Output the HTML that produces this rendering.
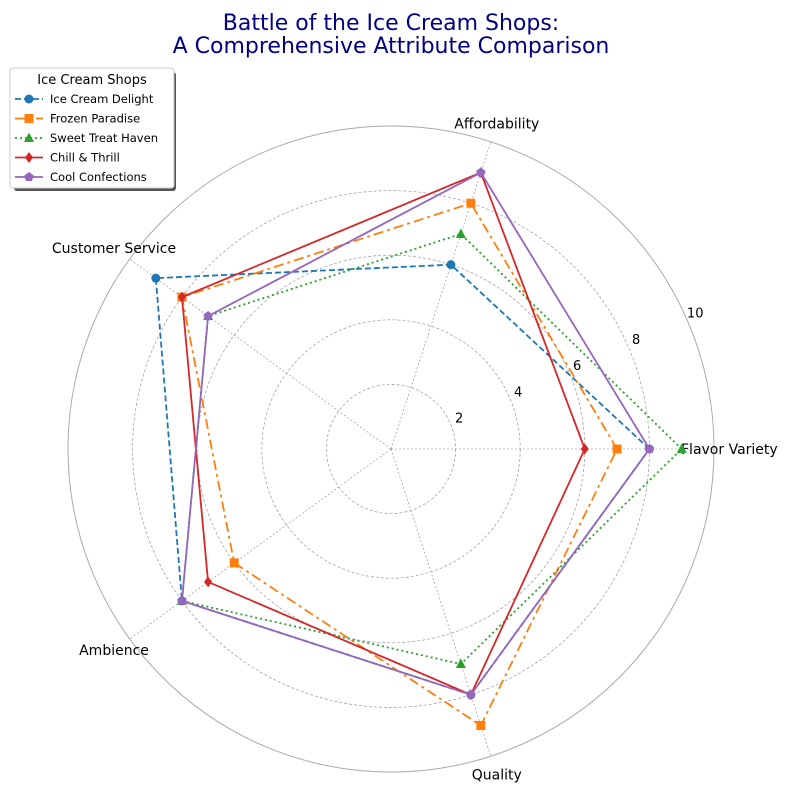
<!DOCTYPE html>
<html><head><meta charset="utf-8"><style>
body{margin:0;background:#fff;font-family:"Liberation Sans","DejaVu Sans",sans-serif;}
svg text{font-family:"DejaVu Sans","Liberation Sans",sans-serif;}
</style></head><body>
<svg id="chart" width="800" height="800" viewBox="0 0 800 800">
<text x="391" y="30" text-anchor="middle" font-size="22" fill="#000080">Battle of the Ice Cream Shops:</text>
<text x="391" y="53" text-anchor="middle" font-size="22" fill="#000080">A Comprehensive Attribute Comparison</text>
<g id="grid"></g><g id="series"></g><g id="legend"></g>
</svg>
<script>
const categories=["Flavor Variety","Affordability","Customer Service","Ambience","Quality"];
const seriesNames=["Ice Cream Delight","Frozen Paradise","Sweet Treat Haven","Chill & Thrill","Cool Confections"];
const iceCreamDelight=[8,6,9,8,8];
const frozenParadise=[7,8,8,6,9];
const sweetTreatHaven=[9,7,7,8,7];
const chillThrill=[6,9,8,7,8];
const coolConfections=[8,9,7,8,8];
const tickLabels=[2,4,6,8,10];
const rMax=10;
const seriesValues=[iceCreamDelight,frozenParadise,sweetTreatHaven,chillThrill,coolConfections];
const colors=["#1f77b4","#ff7f0e","#2ca02c","#d62728","#9467bd"];
const dashes=["6,3","10,4,3,4","2,3","",""];
const markers=["circle","square","triangle","diamond","pentagon"];
const cx=391,cy=449,R=323,NS="http://www.w3.org/2000/svg";
function rs(v){return v/rMax*R;}
function ang(i){return i*2*Math.PI/categories.length;}
function pt(i,v){return [cx+rs(v)*Math.cos(ang(i)),cy-rs(v)*Math.sin(ang(i))];}
function mk(tag,attrs,parent){const e=document.createElementNS(NS,tag);for(const k in attrs)e.setAttribute(k,attrs[k]);parent.appendChild(e);return e;}
const grid=document.getElementById('grid');
tickLabels.forEach(t=>{
  const c=mk('circle',{cx:cx,cy:cy,r:rs(t),fill:'none',stroke:t===rMax?'#aaa':'#999','stroke-width':t===rMax?1:0.7,'stroke-dasharray':t===rMax?'':'3,2'},grid);
  
  
  const a=24*Math.PI/180;
  const tx=mk('text',{x:cx+(rs(t)+10)*Math.cos(a),y:cy-(rs(t)+10)*Math.sin(a)+4,'font-size':13,'text-anchor':'middle'},grid);
  tx.textContent=t;
  
  
});
categories.forEach((c,i)=>{
  const p=pt(i,rMax);
  const l=mk('line',{x1:cx,y1:cy,x2:p[0],y2:p[1],stroke:'#888','stroke-width':0.6,'stroke-dasharray':'2,2'},grid);
  
  
  const q=pt(i,rMax*1.06);
  let anchor='middle';if(i===0)anchor='start';
  let x=q[0],y=q[1]+5;
  if(i===0){x=cx+R-33;y=cy+5;}
  const t=mk('text',{x:x,y:y,'font-size':14,'text-anchor':anchor},grid);
  t.textContent=c;
  
  
});
function marker(g,type,x,y,col){
  let e;
  if(type==='circle')e=mk('circle',{cx:x,cy:y,r:4.5,fill:col},g);
  else if(type==='square')e=mk('rect',{x:x-4.5,y:y-4.5,width:9,height:9,fill:col},g);
  else if(type==='triangle')e=mk('polygon',{points:`${x},${y-5.5} ${x-5},${y+4} ${x+5},${y+4}`,fill:col},g);
  else if(type==='diamond')e=mk('polygon',{points:`${x},${y-5.5} ${x+4},${y} ${x},${y+5.5} ${x-4},${y}`,fill:col},g);
  else{let p=[];for(let k=0;k<5;k++){const a=-Math.PI/2+k*2*Math.PI/5;p.push((x+5*Math.cos(a))+','+(y+5*Math.sin(a)));}e=mk('polygon',{points:p.join(' '),fill:col},g);}
  return e;
}
const sg=document.getElementById('series');
seriesValues.forEach((vals,s)=>{
  const g=mk('g',{},sg);
  
  
  const pts=vals.map((v,i)=>pt(i,v));
  const pl=mk('polygon',{points:pts.map(p=>p.join(',')).join(' '),fill:'none',stroke:colors[s],'stroke-width':1.8,'stroke-dasharray':dashes[s]},g);
  
  
  pts.forEach((p,i)=>{const m=marker(g,markers[s],p[0],p[1],colors[s]);
    
    });
});
const lg=document.getElementById('legend');


mk('rect',{x:14,y:72,width:162,height:119,fill:'#555',rx:3},lg);
mk('rect',{x:10,y:68,width:164,height:120,fill:'#fff',stroke:'#ccc',rx:3},lg);
const lt=mk('text',{x:92,y:84,'font-size':13,'text-anchor':'middle'},lg);lt.textContent='Ice Cream Shops';


seriesNames.forEach((n,s)=>{
  const y=99+s*19.5;
  const g=mk('g',{},lg);
  
  
  mk('line',{x1:15,y1:y,x2:43,y2:y,stroke:colors[s],'stroke-width':1.8,'stroke-dasharray':dashes[s]},g);
  marker(g,markers[s],29,y,colors[s]);
  const t=mk('text',{x:50,y:y+4,'font-size':11.5},g);t.textContent=n;
});
</script>
</body></html>
